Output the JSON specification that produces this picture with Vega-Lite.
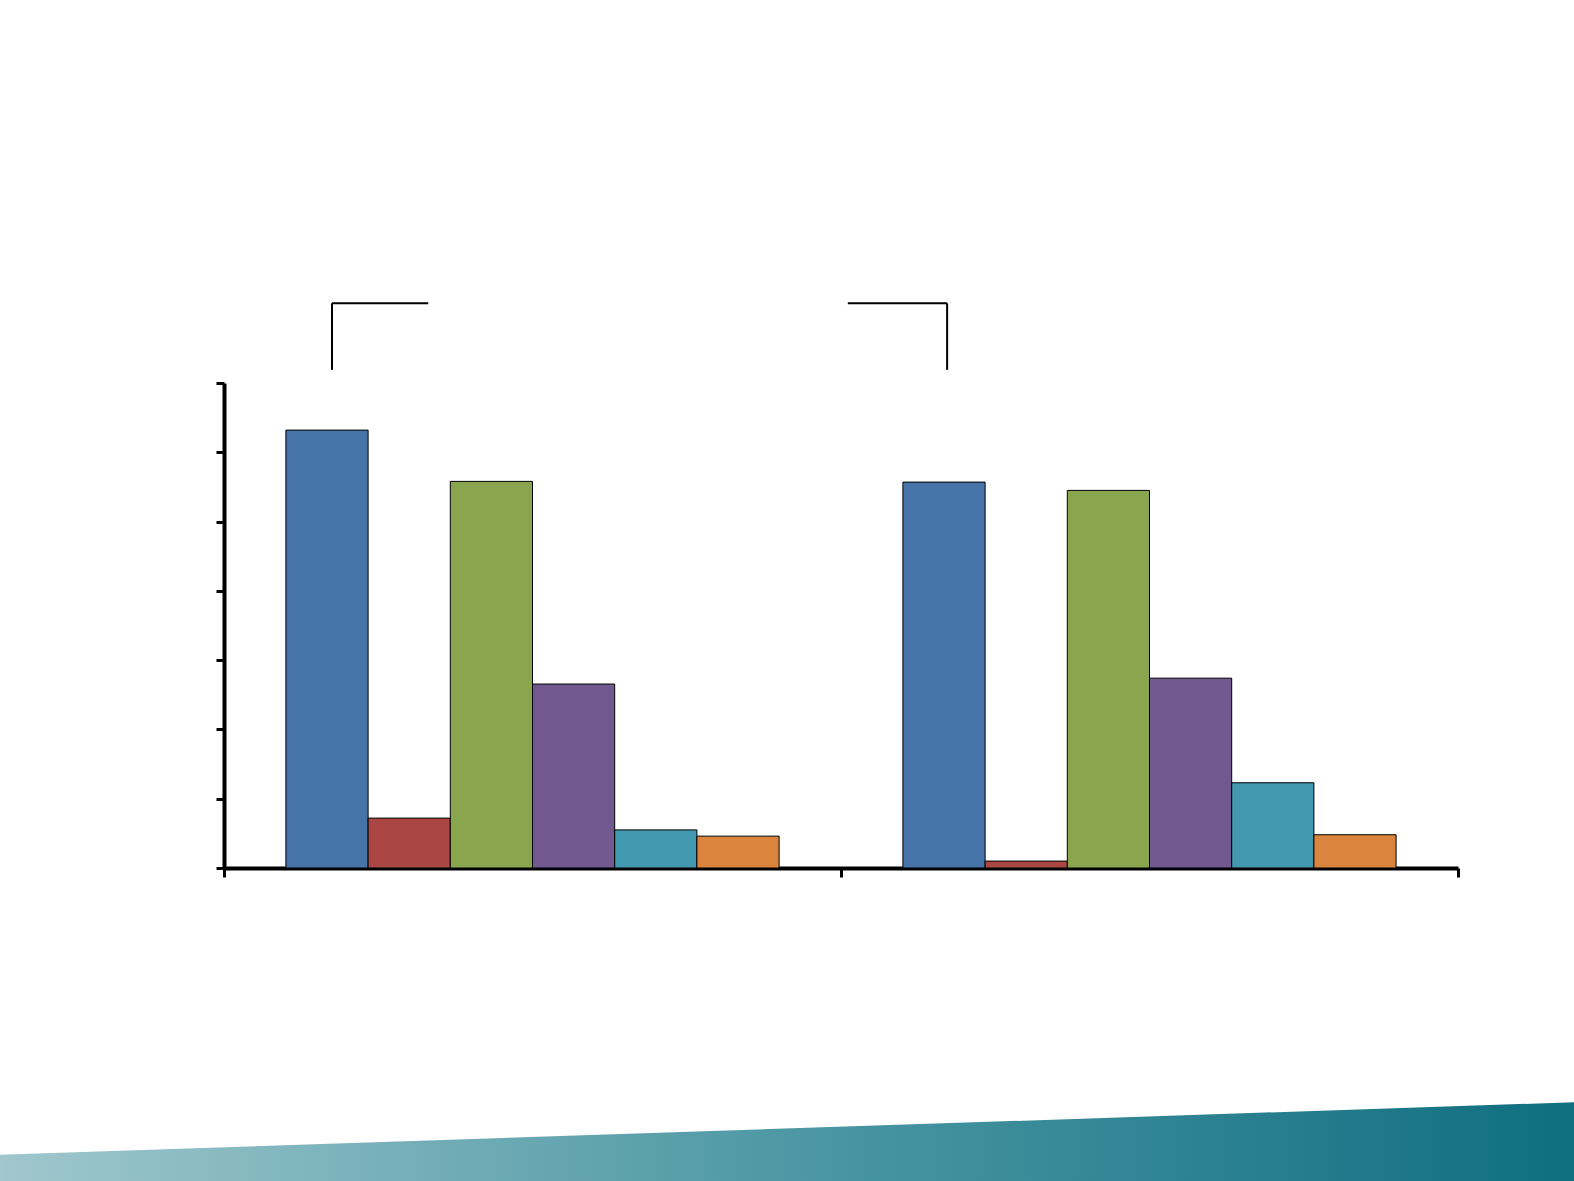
{
  "$schema": "https://vega.github.io/schema/vega-lite/v6.json",
  "autosize": {"type": "none"},
  "width": 1234,
  "height": 485,
  "padding": {"left": 224, "top": 383, "right": 116, "bottom": 313},
  "background": "white",
  "datasets": {
    "bars": [
      {"group": "Group 1", "series": "S1", "value": 6.32},
      {"group": "Group 1", "series": "S2", "value": 0.72},
      {"group": "Group 1", "series": "S3", "value": 5.58},
      {"group": "Group 1", "series": "S4", "value": 2.655},
      {"group": "Group 1", "series": "S5", "value": 0.55},
      {"group": "Group 1", "series": "S6", "value": 0.46},
      {"group": "Group 2", "series": "S1", "value": 5.57},
      {"group": "Group 2", "series": "S2", "value": 0.1},
      {"group": "Group 2", "series": "S3", "value": 5.45},
      {"group": "Group 2", "series": "S4", "value": 2.74},
      {"group": "Group 2", "series": "S5", "value": 1.23},
      {"group": "Group 2", "series": "S6", "value": 0.48}
    ],
    "brackets": [
      {"x": 0.175, "x2": 0.175, "y": 7.19, "y2": 8.15},
      {"x": 0.175, "x2": 0.331, "y": 8.15, "y2": 8.15},
      {"x": 1.011, "x2": 1.172, "y": 8.15, "y2": 8.15},
      {"x": 1.172, "x2": 1.172, "y": 8.15, "y2": 7.19}
    ],
    "band": [
      {"x": -0.363, "y": -4.14, "y2": -4.7},
      {"x": 2.19, "y": -3.38, "y2": -4.7}
    ]
  },
  "layer": [
    {
      "data": {"name": "bars"},
      "mark": {"type": "bar", "stroke": "black", "strokeWidth": 1},
      "encoding": {
        "x": {"field": "group", "type": "nominal", "axis": null,
              "scale": {"paddingInner": 0, "paddingOuter": 0}},
        "xOffset": {"field": "series", "type": "nominal",
                    "scale": {"paddingInner": 0, "paddingOuter": 0.753}},
        "y": {"field": "value", "type": "quantitative", "title": null,
              "scale": {"domain": [0, 7], "nice": false},
              "axis": {"values": [0, 1, 2, 3, 4, 5, 6, 7]}},
        "color": {"field": "series", "type": "nominal", "legend": null,
                  "scale": {"domain": ["S1", "S2", "S3", "S4", "S5", "S6"],
                            "range": ["#4674A8", "#AA4643", "#89A54E", "#71588F", "#4198AF", "#DB843D"]}}
      }
    },
    {
      "encoding": {
        "x": {"field": "x", "type": "quantitative", "title": null,
              "scale": {"domain": [0, 2], "nice": false, "zero": false},
              "axis": {"values": [0, 1, 2], "orient": "bottom"}}
      },
      "layer": [
        {
          "data": {"name": "band"},
          "mark": {"type": "area", "clip": false,
                   "color": {"gradient": "linear", "x1": 0, "y1": 0, "x2": 1, "y2": 0,
                             "stops": [{"offset": 0, "color": "#a0c7cd"}, {"offset": 0.5, "color": "#4d98a4"}, {"offset": 1, "color": "#0f6e80"}]}},
          "encoding": {
            "y": {"field": "y", "type": "quantitative", "title": null, "scale": {"domain": [0, 7], "nice": false}},
            "y2": {"field": "y2"}
          }
        },
        {
          "data": {"name": "brackets"},
          "mark": {"type": "rule", "color": "black", "strokeWidth": 2, "clip": false},
          "encoding": {
            "x2": {"field": "x2"},
            "y": {"field": "y", "type": "quantitative", "title": null, "scale": {"domain": [0, 7], "nice": false}},
            "y2": {"field": "y2"}
          }
        }
      ]
    }
  ],
  "resolve": {"scale": {"x": "independent"}},
  "config": {
    "view": {"stroke": null},
    "axis": {
      "labels": false,
      "grid": false,
      "title": null,
      "domainColor": "black",
      "domainWidth": 4,
      "tickColor": "black",
      "tickWidth": 3,
      "tickSize": 8
    },
    "axisX": {"tickSize": 9}
  }
}
